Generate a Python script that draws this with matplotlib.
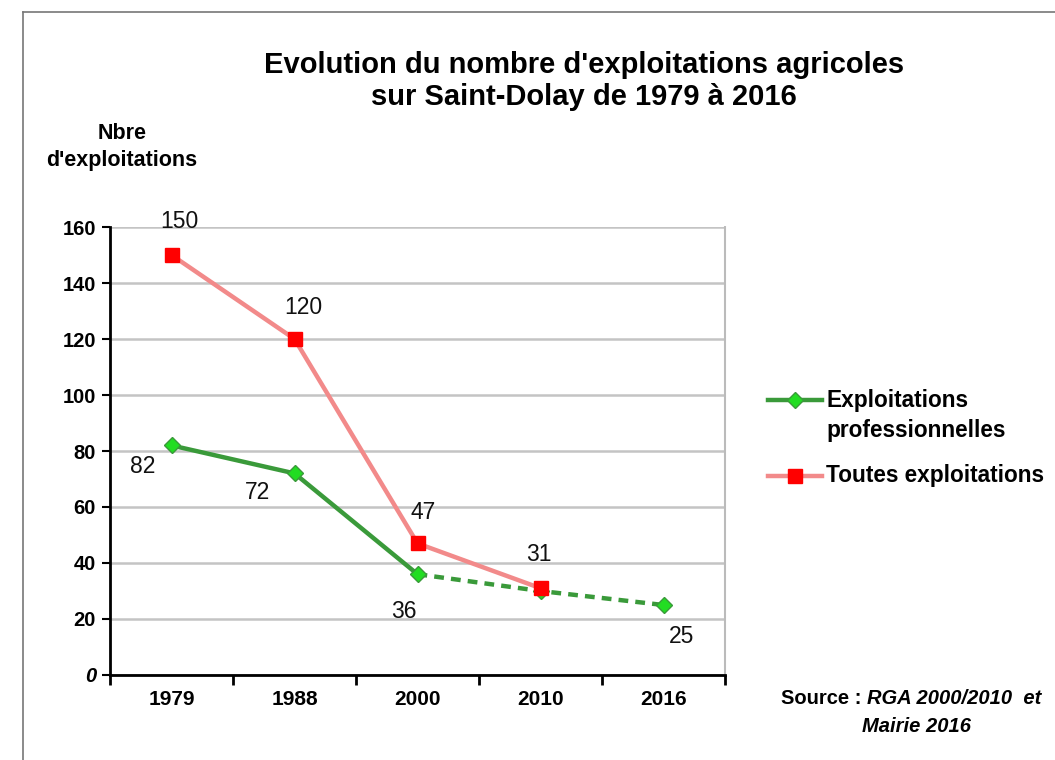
import matplotlib
matplotlib.use("Agg")
import matplotlib.pyplot as plt
from matplotlib.lines import Line2D

plt.rcParams['font.family'] = ['Liberation Sans', 'DejaVu Sans']

years = ["1979", "1988", "2000", "2010", "2016"]
pro = [82, 72, 36, 30, 25]
toutes = [150, 120, 47, 31]
pro_labels = ["82", "72", "36", None, "25"]
toutes_labels = ["150", "120", "47", "31"]
yticks = [0, 20, 40, 60, 80, 100, 120, 140, 160]

fig = plt.figure(figsize=(10.55, 7.6), dpi=100)
ax = fig.add_axes([110/1055, 1-675/760, 615/1055, 448/760])

x = list(range(len(years)))
green_line = '#3A9A3A'
green_mk = '#22DD22'
red_line = '#F28A8A'
red_mk = '#FF0000'

# green solid part (1979-2000), dashed part (2000-2016)
ax.plot(x[:3], pro[:3], color=green_line, lw=3.2, solid_capstyle='round', zorder=3)
ax.plot(x[2:], pro[2:], color=green_line, lw=3.2, ls=(0, (2.2, 1.6)), zorder=3)
ax.plot(x, pro, ls='none', marker='D', ms=8, mfc=green_mk, mec=green_line, mew=1, zorder=4)

ax.plot(x[:len(toutes)], toutes, color=red_line, lw=3.2, zorder=5)
ax.plot(x[:len(toutes)], toutes, ls='none', marker='s', ms=10.5, mfc=red_mk, mec=red_mk, zorder=6)

lab_font = dict(fontsize=16.5, color='#111111', ha='center', va='center')
t_off = [(6, 24), (6, 23), (4, 22), (-1, 24)]
for i, (v, s) in enumerate(zip(toutes, toutes_labels)):
    ax.annotate(s, (x[i], v), xytext=t_off[i], textcoords='offset points', **lab_font)
p_off = [(-21, -15), (-27, -14), (-10, -27), None, (13, -23)]
for i, (v, s) in enumerate(zip(pro, pro_labels)):
    if s is None:
        continue
    ax.annotate(s, (x[i], v), xytext=p_off[i], textcoords='offset points', **lab_font)

ax.set_xlim(-0.5, len(years) - 0.5)
ax.set_ylim(0, 160)
ax.set_yticks(yticks)
ax.set_yticklabels([str(t) for t in yticks], fontsize=14.5, fontweight='bold')
ax.get_yticklabels()[0].set_style('italic')
ax.set_xticks([i - 0.5 for i in range(len(years) + 1)])
ax.set_xticklabels([])
ax.set_xticks(x, minor=True)
ax.set_xticklabels(years, minor=True, fontsize=15, fontweight='bold')
ax.tick_params(axis='x', which='minor', length=0, pad=11)
ax.tick_params(axis='x', which='major', length=7, width=2, color='black', direction='out')
ax.tick_params(axis='y', length=6, width=1.5, color='black', pad=4)

ax.grid(axis='y', color='#C4C4C4', lw=1.8, zorder=0)
ax.set_axisbelow(True)
for s in ['left', 'bottom']:
    ax.spines[s].set_linewidth(2)
    ax.spines[s].set_color('black')
ax.spines['top'].set_visible(False)
ax.spines['right'].set_color('#BBBBBB')
ax.spines['right'].set_linestyle((0, (3, 1)))
ax.spines['right'].set_linewidth(1.5)

fig.text(584/1055, 1-81/760, "Evolution du nombre d'exploitations agricoles\nsur Saint-Dolay de 1979 à 2016",
         ha='center', va='center', fontsize=21, fontweight='bold', linespacing=1.2)
fig.text(122/1055, 1-147/760, "Nbre\nd'exploitations", ha='center', va='center',
         fontsize=15.5, fontweight='bold', linespacing=1.35)

# legend (manual)
leg_fs = 16.3
fig.add_artist(Line2D([768/1055, 822/1055], [1-400/760]*2, color=green_line, lw=3.2))
fig.add_artist(Line2D([795/1055], [1-400/760], marker='D', ms=8, mfc=green_mk, mec=green_line, ls='none'))
fig.text(826/1055, 1-400/760, "Exploitations", ha='left', va='center', fontsize=leg_fs, fontweight='bold')
fig.text(826/1055, 1-430/760, "professionnelles", ha='left', va='center', fontsize=leg_fs, fontweight='bold')
fig.add_artist(Line2D([768/1055, 822/1055], [1-476/760]*2, color=red_line, lw=3.2))
fig.add_artist(Line2D([795/1055], [1-476/760], marker='s', ms=10.5, mfc=red_mk, mec=red_mk, ls='none'))
fig.text(826/1055, 1-476/760, "Toutes exploitations", ha='left', va='center', fontsize=leg_fs, fontweight='bold')

# source
fig.text(867/1055, 1-699/760, "Source : ", ha='right', va='center', fontsize=14.5, fontweight='bold')
fig.text(867/1055, 1-699/760, "RGA 2000/2010  et", ha='left', va='center', fontsize=14.5,
         fontweight='bold', style='italic')
fig.text(916/1055, 1-727/760, "Mairie 2016", ha='center', va='center', fontsize=14.5,
         fontweight='bold', style='italic')

# frame lines
fig.add_artist(Line2D([23/1055, 1], [1-12/760]*2, color='#777777', lw=1.2))
fig.add_artist(Line2D([23/1055]*2, [0, 1-12/760], color='#777777', lw=1.2))

fig.savefig("out.png", dpi=100)
